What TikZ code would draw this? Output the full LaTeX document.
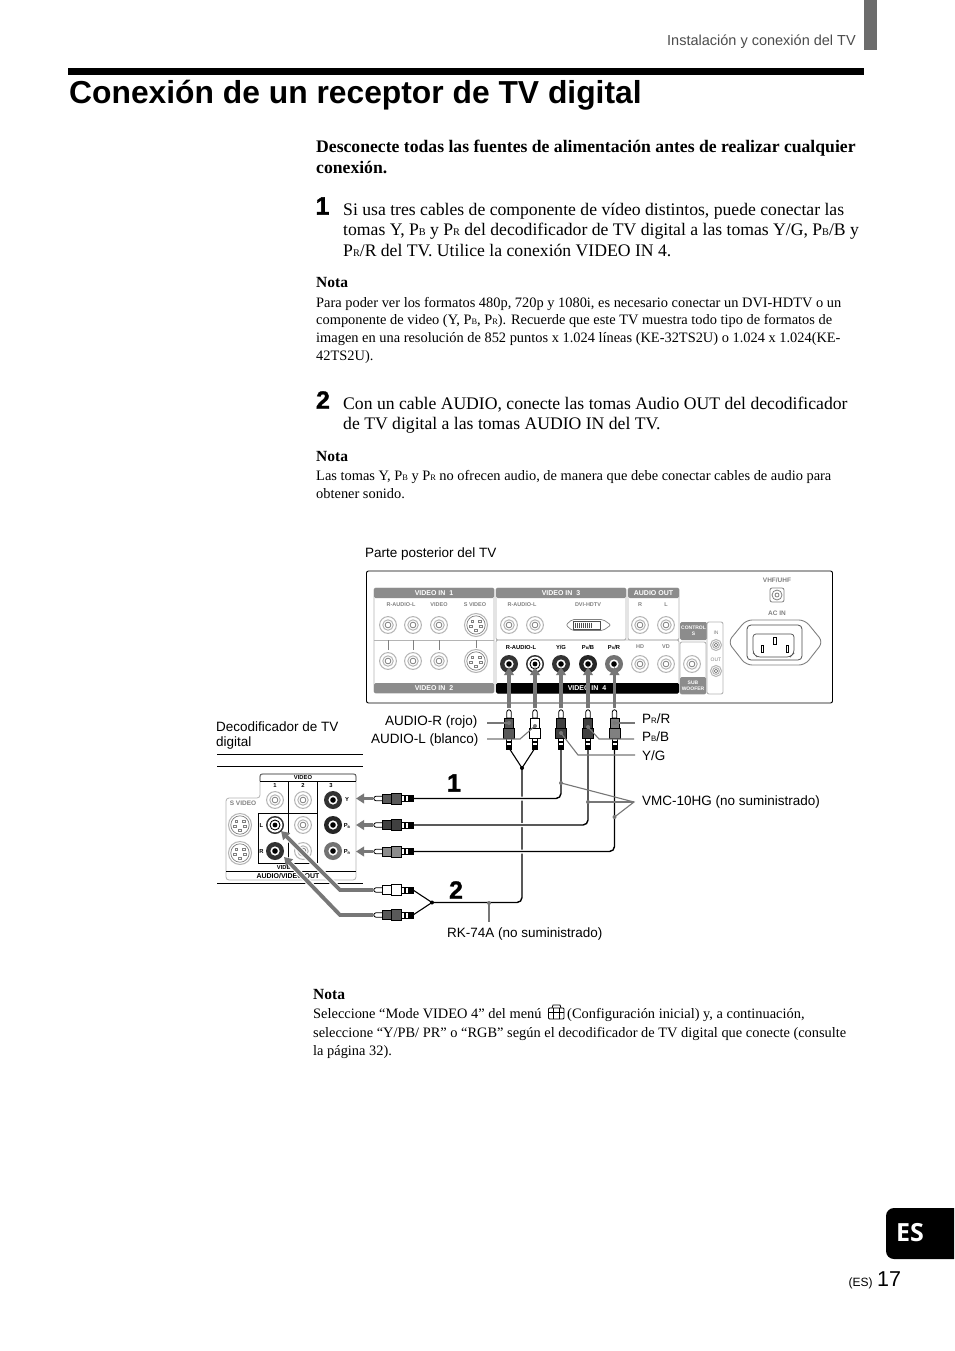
\documentclass[tikz,border=0pt]{standalone}
\usepackage{fontspec}
\usepackage{graphicx}
\setmainfont{Liberation Serif}
\setsansfont{Liberation Sans}
\newfontfamily\numfont[BoldFeatures={FakeBold=1.3}]{Liberation Sans}
\newfontfamily\tabfont{Open Sans}
\usetikzlibrary{arrows.meta}

\definecolor{panelgray}{HTML}{8C8C8C}
\definecolor{linegray}{HTML}{B4B4B4}
\definecolor{leadgray}{HTML}{777777}

\tikzset{
    bodytext/.style={anchor=base west,inner sep=0pt,font=\fontsize{17.65}{20}\selectfont},
    headtext/.style={anchor=base west,inner sep=0pt,font=\fontsize{17.65}{20}\selectfont\bfseries},
    smalltext/.style={anchor=base west,inner sep=0pt,font=\fontsize{14.4}{16}\selectfont},
    notehead/.style={anchor=base west,inner sep=0pt,font=\fontsize{15.5}{18}\selectfont\bfseries},
    labeltext/.style={anchor=base west,inner sep=0pt,font=\sffamily\fontsize{13.5}{15}\selectfont},
    bignum/.style={anchor=center,inner sep=0pt,font=\numfont\bfseries\fontsize{25}{25}\selectfont},
    tinyhead/.style={inner sep=0pt,text=white,font=\sffamily\bfseries\fontsize{7}{8}\selectfont},
    tinygray/.style={inner sep=0pt,text=gray,font=\sffamily\bfseries\fontsize{5.5}{6}\selectfont},
    tinyblack/.style={inner sep=0pt,font=\sffamily\bfseries\fontsize{5.8}{6}\selectfont},
    wire/.style={line width=1.4pt,rounded corners=5pt},
    thinwire/.style={line width=1.1pt},
    leader/.style={leadgray,line width=1.1pt},
    halo/.style={white,line width=6pt},
    bigarrow/.style={leadgray,line width=3.8pt,-{Triangle[length=8pt,width=9.5pt]}},
}

% light jack, then dark jack with a color
\newcommand{\lightjack}[3][8.4pt]{
    \fill[white] (#2,#3) circle (#1);
    \draw[linegray,line width=1pt] (#2,#3) circle (#1);
    \draw[linegray,line width=1pt] (#2,#3) circle (0.62*#1);
    \draw[gray,line width=0.8pt] (#2,#3) circle (0.34*#1);
}
\newcommand{\darkjack}[3]{
    \fill[#3] (#1,#2) circle (9pt);
    \fill[white] (#1,#2) circle (4.6pt);
    \fill[black] (#1,#2) circle (2.8pt);
}
\newcommand{\whitejack}[2]{
    \fill[black!80] (#1,#2) circle (9pt);
    \fill[white] (#1,#2) circle (7.4pt);
    \draw[black,line width=0.9pt] (#1,#2) circle (5pt);
    \fill[black] (#1,#2) circle (2.4pt);
}
\newcommand{\svideojack}[2]{
    \draw[linegray,fill=white,line width=1pt] (#1,#2) circle (11.5pt);
    \draw[gray,line width=0.7pt] (#1,#2) circle (9.2pt);
    \foreach \dx/\dy in {-3.8/-3.5,3.8/-3.5,-5/1.5,5/1.5,0/5}
        \draw[gray,line width=0.5pt] (#1+\dx-1.4,#2+\dy-1.2) rectangle (#1+\dx+1.4,#2+\dy+1.2);
}
% plug going down to the cable
\newcommand{\vplug}[2]{
    \draw[black,fill=white,line width=0.8pt] (#1-2.2,712) -- (#1-2.2,718) -- (#1+2.2,718) -- (#1+2.2,712) arc (0:180:2.2pt);
    \draw[black,fill=#2,line width=0.8pt] (#1-4.5,718) rectangle (#1+4.5,728);
    \draw[black,fill=#2,line width=0.8pt] (#1-5.5,728) rectangle (#1+5.5,738);
    \draw[black,fill=white,line width=0.8pt] (#1-2.6,738) rectangle (#1+2.6,749);
    \fill[black] (#1-2.6,741) rectangle (#1+2.6,743);
    \fill[black] (#1-2.6,745) rectangle (#1+2.6,749);
}
% plug lying on its side
\newcommand{\hplug}[2]{
    \draw[black,fill=white,line width=0.8pt] (382,#1-2.2) -- (376,#1-2.2) arc (90:270:2.2pt) -- (382,#1+2.2);
    \draw[black,fill=#2,line width=0.8pt] (382,#1-4.5) rectangle (391,#1+4.5);
    \draw[black,fill=#2,line width=0.8pt] (391,#1-5.5) rectangle (401,#1+5.5);
    \draw[black,fill=white,line width=0.8pt] (401,#1-3) rectangle (413,#1+3);
    \fill[black] (404,#1-3) rectangle (406,#1+3);
    \fill[black] (408,#1-3) rectangle (413,#1+3);
}
\newcommand{\psub}[1]{\raisebox{-0.05ex}{\scalebox{0.58}{#1}}}

\begin{document}
\begin{tikzpicture}[x=1pt,y=-1pt]
    \useasboundingbox (0,0) rectangle (954,1351);
    \fill[white] (0,0) rectangle (954,1351);

    % Page head
    \fill[gray!85!black] (864,0) rectangle (877,50);
    \node[labeltext,anchor=base east,text=black!70,font=\sffamily\fontsize{14.5}{16}\selectfont] (runhead) at (856,46) {Instalación y conexión del TV};
    \fill[black] (68,68) rectangle (864,75);
    \node[anchor=base west,inner sep=0pt,font=\sffamily\bfseries\fontsize{31.8}{36}\selectfont] (title) at (69,104) {Conexión de un receptor de TV digital};

    % Text above the picture
    \node[headtext] (warnA) at (316,153) {Desconecte todas las fuentes de alimentación antes de realizar cualquier};
    \node[headtext] (warnB) at (316,173.5) {conexión.};

    \node[bignum] (stepA) at (322.5,206) {1};
    \node[bodytext] (stepAa) at (343,215) {Si usa tres cables de componente de vídeo distintos, puede conectar las};
    \node[bodytext] (stepAb) at (343,235) {tomas Y, P\psub{B} y P\psub{R} del decodificador de TV digital a las tomas Y/G, P\psub{B}/B y};
    \node[bodytext] (stepAc) at (343,256) {P\psub{R}/R del TV. Utilice la conexión VIDEO IN 4.};

    \node[notehead] (notaA) at (316,287) {Nota};
    \node[smalltext] (notaAa) at (316,307) {Para poder ver los formatos 480p, 720p y 1080i, es necesario conectar un DVI-HDTV o un};
    \node[smalltext] (notaAb) at (316,324) {componente de video (Y, P\psub{B}, P\psub{R}). Recuerde que este TV muestra todo tipo de formatos de};
    \node[smalltext] (notaAc) at (316,342) {imagen en una resolución de 852 puntos x 1.024 líneas (KE-32TS2U) o 1.024 x 1.024(KE-};
    \node[smalltext] (notaAd) at (316,360) {42TS2U).};

    \node[bignum] (stepB) at (323,400) {2};
    \node[bodytext] (stepBa) at (343,409) {Con un cable AUDIO, conecte las tomas Audio OUT del decodificador};
    \node[bodytext] (stepBb) at (343,429.5) {de TV digital a las tomas AUDIO IN del TV.};

    \node[notehead] (notaB) at (316,461) {Nota};
    \node[smalltext] (notaBa) at (316,480) {Las tomas Y, P\psub{B} y P\psub{R} no ofrecen audio, de manera que debe conectar cables de audio para};
    \node[smalltext] (notaBb) at (316,498) {obtener sonido.};

    % TV back panel
    \node[labeltext] (tvlabel) at (365,557) {Parte posterior del TV};
    \draw[black,line width=0.9pt,rounded corners=2pt] (366.5,571) rectangle (832.5,703);

    % Video in 1 and 2
    \draw[linegray,line width=0.9pt,rounded corners=2pt] (374,588) rectangle (494,693);
    \fill[panelgray,rounded corners=1.5pt] (374,588) rectangle (494,598);
    \fill[panelgray,rounded corners=1.5pt] (374,683) rectangle (494,693);
    \node[tinyhead] (videoA) at (434,593) {VIDEO IN\ \ 1};
    \node[tinyhead] (videoB) at (434,688) {VIDEO IN\ \ 2};
    \draw[linegray,line width=0.8pt] (374,640) -- (494,640);
    \foreach \x in {388,413,439}{
        \draw[gray,line width=0.6pt] (\x,640) -- (\x,650);
        \lightjack{\x}{625}
        \lightjack{\x}{661}
    }
    \draw[gray,line width=0.6pt] (476,640) -- (476,648);
    \svideojack{476}{625}
    \svideojack{476}{661}
    \node[tinygray] (rlA) at (401,604.5) {R-AUDIO-L};
    \node[tinygray] (videoC) at (439,604.5) {VIDEO};
    \node[tinygray] (sA) at (475,604.5) {S VIDEO};

    % Video in 3, audio out
    \draw[linegray,line width=0.9pt,rounded corners=2pt] (496,588) rectangle (626,640);
    \draw[linegray,line width=0.9pt,rounded corners=2pt] (628,588) rectangle (679,640);
    \fill[panelgray,rounded corners=1.5pt] (496,588) rectangle (626,598);
    \fill[panelgray,rounded corners=1.5pt] (628,588) rectangle (679,598);
    \node[tinyhead] (videoD) at (561,593) {VIDEO IN\ \ 3};
    \node[tinyhead] (audioout) at (653.5,593) {AUDIO OUT};
    \node[tinygray] (rlB) at (522,604.5) {R-AUDIO-L};
    \node[tinygray] (dvi) at (588,604.5) {DVI-HDTV};
    \node[tinygray] (rC) at (640,604.5) {R};
    \node[tinygray] (lC) at (666,604.5) {L};
    \lightjack{509}{625}
    \lightjack{535}{625}
    \lightjack{640}{625}
    \lightjack{666}{625}
    % dvi socket
    \draw[gray,line width=0.7pt,rounded corners=2pt] (566,625) -- (572,619.5) -- (603,619.5) -- (611,625) -- (603,630.5) -- (572,630.5) -- cycle;
    \draw[black!70,line width=0.6pt] (573,621) rectangle (600,629);
    \foreach \x in {575,577,...,591}
        \draw[black!70,line width=0.8pt] (\x,622.5) -- (\x,627.5);

    % Video in 4
    \draw[linegray,line width=0.9pt,rounded corners=2pt] (496,640) rectangle (679,693);
    \fill[black,rounded corners=1.5pt] (496,683) rectangle (679,693.5);
    \node[tinyhead] (videoE) at (587,688.5) {VIDEO IN\ \ 4};
    \node[tinyblack] (rlD) at (521,647) {R-AUDIO-L};
    \node[tinyblack] (ygD) at (561,647) {Y/G};
    \node[tinyblack] (pbD) at (588,647) {P\psub{B}/B};
    \node[tinyblack] (prD) at (614,647) {P\psub{R}/R};
    \node[tinygray] (hdD) at (640,647) {HD};
    \node[tinygray] (vdD) at (666,647) {VD};
    \darkjack{509}{664}{black!80}
    \whitejack{535}{664}
    \darkjack{561}{664}{black!80}
    \darkjack{588}{664}{black!85}
    \darkjack{614}{664}{black!55}
    \lightjack{640}{664}
    \lightjack{666}{664}

    % Control S, sub woofer, in/out
    \fill[panelgray,rounded corners=1.5pt] (680,622) rectangle (707,640);
    \node[tinyhead,align=center,font=\sffamily\bfseries\fontsize{5}{6.5}\selectfont] (control) at (693.5,631) {CONTROL\\S};
    \draw[linegray,line width=0.9pt,rounded corners=2pt] (680,642) rectangle (706,694);
    \fill[panelgray,rounded corners=1.5pt] (680,677) rectangle (706,694);
    \node[tinyhead,align=center,font=\sffamily\bfseries\fontsize{5}{6.5}\selectfont] (woofer) at (693,686) {SUB\\WOOFER};
    \lightjack{692}{664}
    \draw[linegray,line width=0.9pt,rounded corners=2pt] (707,622) rectangle (723,694);
    \node[tinygray,font=\sffamily\fontsize{5}{6}\selectfont] (inlabel) at (716,633) {IN};
    \node[tinygray,font=\sffamily\fontsize{5}{6}\selectfont] (outlabel) at (716,660) {OUT};
    \lightjack[5.5pt]{716}{645}
    \lightjack[5.5pt]{716}{671}

    % Antenna and mains socket
    \node[tinygray,font=\sffamily\bfseries\fontsize{6.5}{7}\selectfont] (vhf) at (777,580) {VHF/UHF};
    \node[tinygray,font=\sffamily\bfseries\fontsize{6.5}{7}\selectfont] (acin) at (777,613) {AC IN};
    \draw[gray,fill=white,line width=0.8pt,rounded corners=2pt] (770,588) rectangle (784,602);
    \draw[gray,line width=0.8pt] (777,595) circle (5pt);
    \draw[gray,line width=0.8pt] (777,595) circle (2pt);
    \draw[gray,line width=0.9pt,rounded corners=6pt] (728,642) -- (746,620) -- (805,620) -- (823,642) -- (805,665) -- (746,665) -- cycle;
    \draw[black!70,line width=0.8pt,rounded corners=4pt] (747,625) rectangle (802,660);
    \draw[black!70,line width=0.7pt,rounded corners=3pt] (753,634) -- (794,634) -- (794,653) -- (790,657) -- (757,657) -- (753,653) -- cycle;
    \draw[black,line width=0.6pt] (761,645) rectangle (763.5,652);
    \draw[black,line width=0.6pt] (773,637) rectangle (776,644);
    \draw[black,line width=0.6pt] (786,645) rectangle (788.5,652);

    % Decoder panel
    \node[labeltext] (declabelA) at (216,731) {Decodificador de TV};
    \node[labeltext] (declabelB) at (216,746) {digital};
    \draw[black,line width=0.8pt] (217,754) -- (363,754);
    \draw[black,line width=0.8pt] (217,766) -- (363,766);
    \draw[black,line width=0.8pt] (217,883) -- (363,883);
    \draw[linegray,line width=0.8pt,rounded corners=3pt] (260,774) -- (356,774) -- (356,880) -- (226,880) -- (226,798) -- (260,798) -- cycle;
    \draw[black!70,line width=0.7pt,rounded corners=2pt] (260,781) -- (260,774) -- (356,774) -- (356,781);
    \draw[black,line width=0.8pt] (260,781) -- (356,781);
    \draw[black,line width=0.8pt] (288,781) -- (288,863);
    \draw[black,line width=0.8pt] (317,781) -- (317,863);
    \draw[black,line width=0.8pt] (317,813) -- (258,813) -- (258,863) -- (317,863);
    \draw[black,line width=0.8pt] (226,871) -- (356,871);
    \node[tinyblack] (decvideo) at (303,777.5) {VIDEO};
    \node[tinyblack] (decone) at (275,785) {1};
    \node[tinyblack] (dectwo) at (303,785) {2};
    \node[tinyblack] (decthree) at (331,785) {3};
    \node[tinygray,font=\sffamily\bfseries\fontsize{6.5}{7}\selectfont] (decs) at (243,803) {S VIDEO};
    \node[tinyblack] (decYl) at (347,799.5) {Y};
    \node[tinyblack] (decPbl) at (347,826) {P\psub{B}};
    \node[tinyblack] (decPrl) at (347,852) {P\psub{R}};
    \node[tinyblack] (decLl) at (261.5,825) {L};
    \node[tinyblack] (decRl) at (261.5,851) {R};
    \node[tinyblack] (decvideob) at (286,867) {VIDEO};
    \node[tinyblack,font=\sffamily\bfseries\fontsize{7}{8}\selectfont] (decout) at (288,876) {AUDIO/VIDEO OUT};
    \svideojack{240}{825}
    \svideojack{240}{853}
    \lightjack{275}{800}
    \lightjack{303}{800}
    \lightjack{303}{825}
    \lightjack{303}{851}
    \darkjack{333}{800}{black!80}
    \darkjack{333}{825}{black!85}
    \darkjack{333}{851}{black!55}
    \whitejack{275}{825}
    \darkjack{275}{851}{black!80}

    % Named ends of the cables
    \coordinate (plugAudioR) at (509,748);
    \coordinate (plugAudioL) at (535,748);
    \coordinate (plugY) at (561,748);
    \coordinate (plugPb) at (588,748);
    \coordinate (plugPr) at (614.5,748);
    \coordinate (joinTop) at (522,768);
    \coordinate (joinLeft) at (432,902.5);
    \coordinate (decY) at (413,798.5);
    \coordinate (decPb) at (413,825);
    \coordinate (decPr) at (413,851.5);
    \coordinate (decL) at (413,890);
    \coordinate (decR) at (413,915);

    % Audio cable first, the others pass over it
    \draw[thinwire] (plugAudioR) -- (joinTop) -- (plugAudioL);
    \draw[wire] (joinTop) |- (joinLeft);
    \draw[thinwire] (joinLeft) -- (decL);
    \draw[thinwire] (joinLeft) -- (decR);
    \fill (joinTop) circle (2pt);
    \fill (joinLeft) circle (2pt);
    \foreach \a/\b in {plugY/decY,plugPb/decPb,plugPr/decPr}{
        \draw[white,line width=4pt,rounded corners=5pt] ([yshift=6pt]\a) |- (\b);
        \draw[wire] (\a) |- (\b);
    }

    % Arrows into the TV
    \foreach \x in {509,535,561,588,614.5}{
        \draw[bigarrow] (\x,708) -- (\x,667);
    }
    \vplug{509}{black!65}
    \vplug{535}{white}
    \vplug{561}{black!75}
    \vplug{588}{black!75}
    \vplug{614.5}{black!50}

    % Arrows into the decoder
    \foreach \y in {798.5,825,851.5}{
        \draw[bigarrow] (373,\y) -- (356,\y);
    }
    \draw[halo] (340,890) -- (282,832);
    \draw[halo] (340,915) -- (285,858);
    \draw[bigarrow] (373,890) -- (340,890) -- (281,831);
    \draw[bigarrow] (373,915) -- (340,915) -- (284,857);
    \hplug{798.5}{black!65}
    \hplug{825}{black!75}
    \hplug{851.5}{black!45}
    \hplug{890}{white}
    \hplug{915}{black!65}

    \node[bignum] (numA) at (454,783) {1};
    \node[bignum] (numB) at (456,890) {2};

    % Labels of the plugs
    \node[labeltext,anchor=base east] (audioRlabel) at (477.5,725) {AUDIO-R (rojo)};
    \node[labeltext,anchor=base east] (audioLlabel) at (478.5,743) {AUDIO-L (blanco)};
    \node[labeltext] (prlabel) at (642,723) {P\psub{R}/R};
    \node[labeltext] (pblabel) at (642,741) {P\psub{B}/B};
    \node[labeltext] (yglabel) at (642,760) {Y/G};
    \node[labeltext] (vmclabel) at (642,805) {VMC-10HG (no suministrado)};
    \node[labeltext] (rklabel) at (447,937) {RK-74A (no suministrado)};

    \coordinate (leadVmc) at (634,802);
    \draw[leader] (487,723) -- (509,723);
    \draw[leader] (487,739) -- (520,739) -- (535,726);
    \draw[leader] (614.5,723) -- (635,723);
    \draw[leader] (588,727) -- (599,739) -- (634,739);
    \draw[leader] (561,733) -- (578,755) -- (635,755);
    \draw[leader] (561,783) -- (leadVmc) -- (614.5,817);
    \draw[leader] (588,802) -- (leadVmc);
    \draw[leader] (489,903) -- (489,922);
    \foreach \x/\y in {509/723,535/726,614.5/723,588/727,561/733,561/783,588/802,614.5/817,489/903}
        \fill[leadgray] (\x,\y) circle (2pt);

    % Text below the picture
    \node[notehead] (notaC) at (313,999) {Nota};
    \node[smalltext] (notaCa) at (313,1018) {Seleccione “Mode VIDEO 4” del menú};
    \draw[black,line width=0.8pt,rounded corners=1pt] (548.5,1008) rectangle (564,1019);
    \draw[black,line width=0.8pt] (552,1008) -- (553,1005) -- (560,1005) -- (561,1008);
    \draw[black,line width=0.8pt] (548.5,1012) -- (564,1012);
    \draw[black,line width=0.7pt] (553,1008) -- (553,1019);
    \draw[black,line width=0.7pt] (559.5,1008) -- (559.5,1019);
    \node[smalltext] (notaCb) at (567,1018) {(Configuración inicial) y, a continuación,};
    \node[smalltext] (notaCc) at (313,1037) {seleccione “Y/PB/ PR” o “RGB” según el decodificador de TV digital que conecte (consulte};
    \node[smalltext] (notaCd) at (313,1055) {la página 32).};

    % Page foot
    \fill[black,rounded corners=8pt] (954,1208) -- (886,1208) -- (886,1259) -- (954,1259);
    \node[anchor=center,inner sep=0pt,text=white,font=\tabfont\bfseries\fontsize{25}{25}\selectfont] (langtab) at (910,1233) {ES};
    \node[anchor=base west,inner sep=0pt,font=\sffamily\fontsize{12}{13}\selectfont] (langpage) at (848.5,1286) {(ES)};
    \node[anchor=base west,inner sep=0pt,font=\sffamily\fontsize{21.5}{24}\selectfont] (pagenum) at (877,1286) {17};
\end{tikzpicture}
\end{document}
